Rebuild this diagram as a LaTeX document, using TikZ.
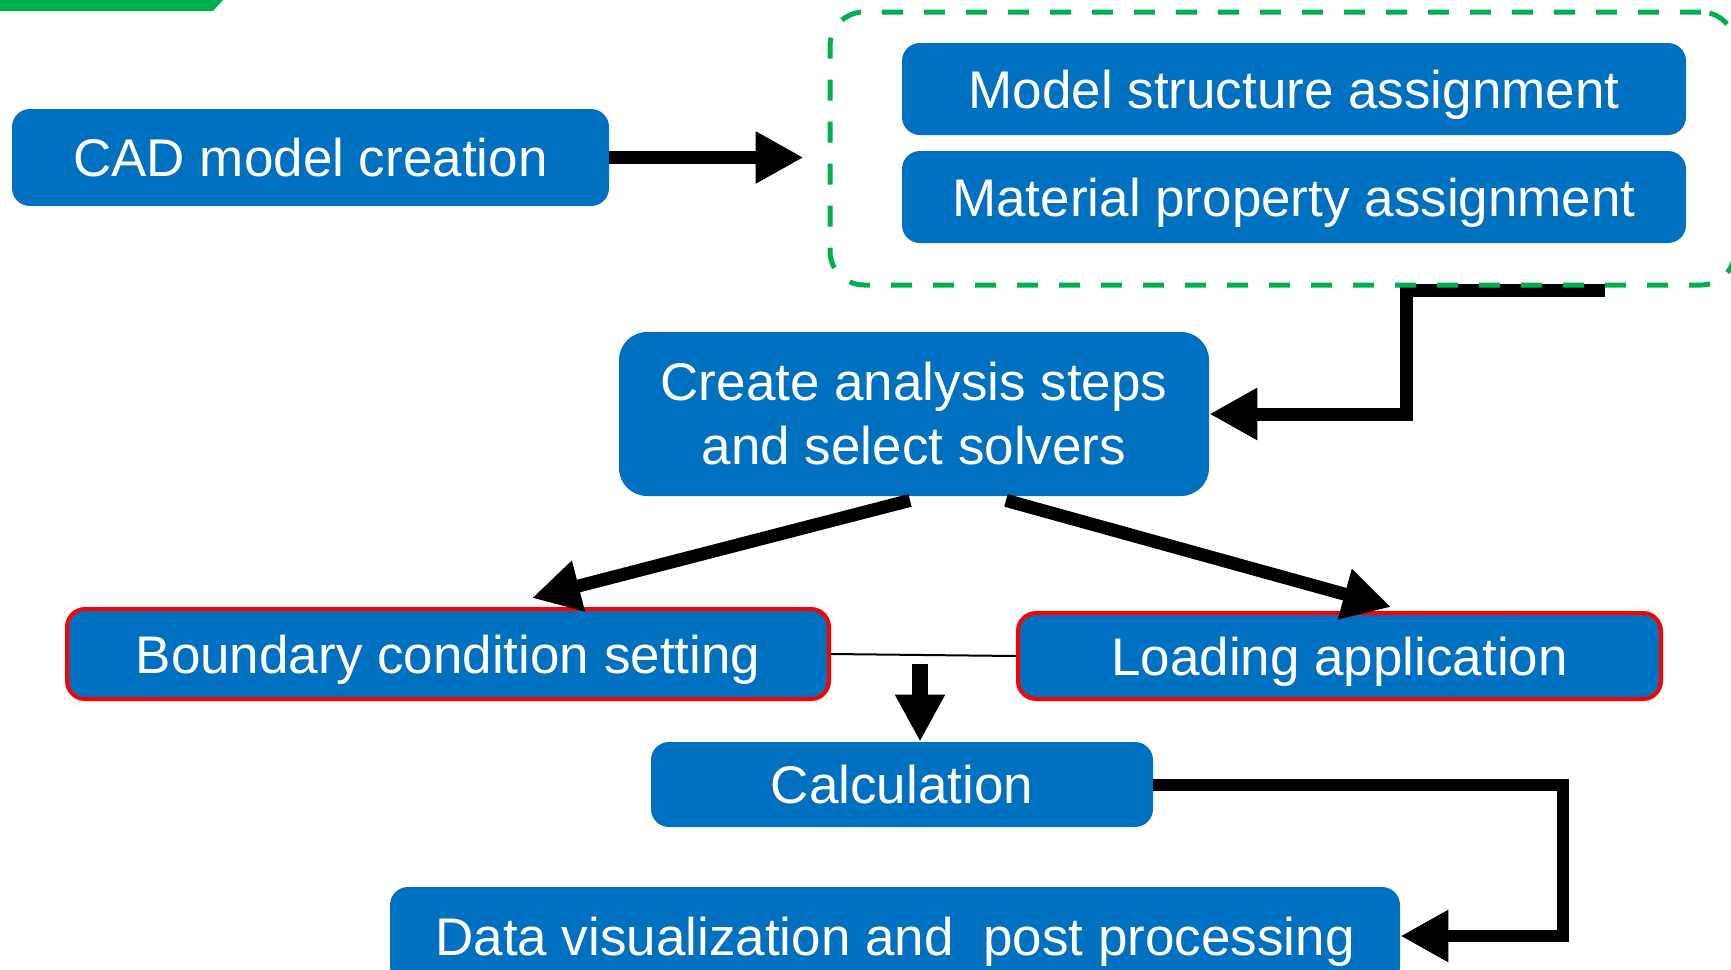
\documentclass[tikz,border=0pt]{standalone}
\usepackage{fontspec}
\setmainfont{Liberation Sans}
\usetikzlibrary{arrows.meta,backgrounds}
\definecolor{boxblue}{HTML}{0070C0}
\definecolor{groupgreen}{HTML}{00B050}
\definecolor{edgered}{HTML}{FF0000}

\begin{document}
\begin{tikzpicture}[x=0.5pt,y=-0.5pt,
  box/.style={fill=boxblue, draw=none, text=white, rounded corners=9pt,
    inner sep=0pt, font=\fontsize{26.5}{32}\selectfont,
    text height=19.1pt, text depth=0pt},
  redbox/.style={box, draw=edgered, line width=2pt},
  groupbox/.style={draw=groupgreen, line width=2.5pt, dash pattern=on 10.5pt off 10.5pt,
    rounded corners=17pt, inner sep=0pt},
  flow/.style={line width=6.5pt, line join=miter, -{Triangle[length=24pt,width=24.5pt]}},
  drop/.style={line width=8pt, -{Triangle[length=23.5pt,width=23.5pt]}},
  link/.style={line width=1pt}
]
\useasboundingbox (0,0) rectangle (1731,970);

% corner tab
\fill[groupgreen] (0,0) -- (223,0) -- (213,11) -- (0,11) -- cycle;

% process boxes
\node[box, minimum width=298.5pt, minimum height=48.5pt] (cad) at (310.5,157.5) {CAD model creation};
\node[box, minimum width=392pt, minimum height=46pt] (structure) at (1294,89) {Model structure assignment};
\node[box, minimum width=392pt, minimum height=46pt] (material) at (1294,197) {Material property assignment};
\node[groupbox, minimum width=452.5pt, minimum height=136.5pt] (group) at (1282.5,148.5) {};
\node[box, rounded corners=14pt, minimum width=295pt, minimum height=82pt,
  align=center, text height={}, text depth={}] (create) at (914,414)
  {Create analysis steps\\and select solvers};
\node[redbox, minimum width=381pt, minimum height=45pt] (boundary) at (448,654) {Boundary condition setting};
\node[redbox, minimum width=321.5pt, minimum height=43pt] (loading) at (1339.5,656) {Loading application};
\node[box, minimum width=251pt, minimum height=42.5pt] (calc) at (902,784.5) {Calculation};
\node[box, minimum width=505pt, minimum height=49pt] (data) at (895,936)
  {Data visualization and\hspace{0.28em} post processing};

% connectors
\draw[flow] (cad.east) -- ([xshift=-12pt]group.west |- cad.east);

\coordinate (gout) at (1605,290);
\coordinate (gbend) at (1406,290);
\begin{pgfonlayer}{background}
  \draw[flow] (gout) -- (gbend) |- (create.east);
\end{pgfonlayer}

\draw[flow] ([xshift=-2pt,yshift=-2pt]create.south) -- ([xshift=42pt,yshift=4.5pt]boundary.north);
\draw[flow] ([xshift=46pt,yshift=-2pt]create.south) -- ([xshift=25.75pt,yshift=2pt]loading.north);
\draw[link] (boundary.east) -- (loading.west);
\draw[drop] ([xshift=9pt,yshift=39pt]calc.north) -- ([xshift=9pt]calc.north);

\coordinate (calcbend) at ([xshift=205pt]calc.east);
\draw[flow, line width=6pt] (calc.east) -- (calcbend) |- (data.east);
\end{tikzpicture}
\end{document}
